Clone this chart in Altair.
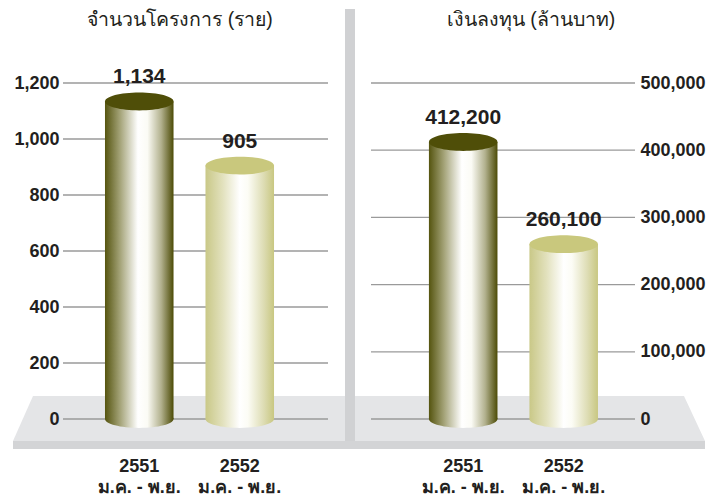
import altair as alt
import pandas as pd

# ---------------- data ----------------
years = ["2551", "2552"]
period = "ม.ค. - พ.ย."
projects = [1134, 905]
investment = [412200, 260100]
project_ticks = [0, 200, 400, 600, 800, 1000, 1200]
invest_ticks = [0, 100000, 200000, 300000, 400000, 500000]
titles = ["จำนวนโครงการ (ราย)", "เงินลงทุน (ล้านบาท)"]

labels = [y + "\n" + period for y in years]

# ---------------- style ----------------
FONT = "Liberation Sans"
TXT = "#231f20"
GRID = "#9a9a9a"
FLOOR = "#e4e5e7"
STRIP = "#d3d4d6"
DIVIDER = "#d0d1d3"


def grad(stops):
    return alt.LinearGradient(
        gradient="linear", x1=0, x2=1, y1=0, y2=0,
        stops=[alt.GradientStop(offset=o, color=c) for o, c in stops])


body_fill = {
    years[0]: grad([(0, "#55540f"), (0.22, "#a4a378"), (0.48, "#ffffff"),
                    (0.62, "#fbfbf5"), (0.82, "#b2b18e"), (1, "#4c4b06")]),
    years[1]: grad([(0, "#c9c887"), (0.25, "#e2e1bd"), (0.5, "#ffffff"),
                    (0.62, "#fcfcf5"), (0.85, "#dddcb3"), (1, "#c8c781")]),
}
top_fill = {years[0]: "#4f4e08", years[1]: "#c9c87d"}

ELLIPSE = ("M-1,0 C-1,-0.1436 -0.5523,-0.26 0,-0.26 C0.5523,-0.26 1,-0.1436 1,0 "
           "C1,0.1436 0.5523,0.26 0,0.26 C-0.5523,0.26 -1,0.1436 -1,0 Z")
BAND = 68.5
ELL_SIZE = BAND * BAND


def panel(values, ticks, title_text, title_x, orient, width, align, pad_outer,
          face_path, strip_x, divider):
    df = pd.DataFrame({"label": labels, "year": years, "value": values,
                       "zero": [0] * len(values)})
    yscale = alt.Scale(domain=[0, max(ticks)], nice=False, zero=True)
    yax = alt.Axis(orient=orient, values=ticks, format=",d", grid=False,
                   domain=False, ticks=False,
                   labelPadding=4 if orient == "left" else 5,
                   title=None, labelFont=FONT, labelFontSize=18,
                   labelFontWeight="bold", labelColor=TXT, zindex=1)
    xscale = alt.Scale(paddingInner=0.318, paddingOuter=pad_outer, align=align)
    xax = alt.Axis(title=None, labelExpr="split(datum.label, '\\n')",
                   labelAngle=0, domain=False, ticks=False, labelPadding=38,
                   labelFont=FONT, labelFontSize=18, labelFontWeight="bold",
                   labelColor=TXT, labelLineHeight=21, zindex=1)

    def X():
        return alt.X("label:N", sort=labels, scale=xscale, axis=xax)

    def Y(field):
        return alt.Y(field, scale=yscale, axis=yax)

    one = alt.Data(values=[{"k": 1}])

    layers = []
    # floor
    layers.append(alt.Chart(one).mark_rect(color=STRIP).encode(
        x=alt.value(strip_x[0]), x2=alt.value(strip_x[1]),
        y=alt.value(358), y2=alt.value(366)))
    layers.append(alt.Chart(one).mark_point(
        shape=face_path, size=4, filled=True, opacity=1, fill=FLOOR,
        strokeWidth=0).encode(x=alt.value(0), y=alt.value(0)))
    if divider is not None:
        layers.append(alt.Chart(one).mark_rect(color=DIVIDER).encode(
            x=alt.value(divider[0]), x2=alt.value(divider[1]),
            y=alt.value(-74), y2=alt.value(358)))
    # gridlines
    layers.append(alt.Chart(pd.DataFrame({"t": ticks})).mark_rule(
        color=GRID, strokeWidth=1.3).encode(y=Y("t:Q")))

    base = alt.Chart(df)
    for yr in years:
        sub = base.transform_filter(alt.datum.year == yr)
        # bottom ellipse
        layers.append(sub.mark_point(
            shape=ELLIPSE, size=ELL_SIZE, filled=True, opacity=1,
            fill=body_fill[yr], strokeWidth=0).encode(x=X(), y=Y("zero:Q")))
        # body
        layers.append(sub.mark_bar(fill=body_fill[yr], strokeWidth=0).encode(
            x=X(), y=Y("value:Q"), y2=alt.Y2("zero:Q")))
        # top ellipse
        layers.append(sub.mark_point(
            shape=ELLIPSE, size=ELL_SIZE, filled=True, opacity=1,
            fill=top_fill[yr], strokeWidth=0).encode(x=X(), y=Y("value:Q")))

    # value labels
    layers.append(base.mark_text(
        dy=-24, font=FONT, fontSize=21, fontWeight="bold", color=TXT,
        baseline="middle").encode(
        x=X(), y=Y("value:Q"), text=alt.Text("value:Q", format=",")))
    # panel title
    layers.append(alt.Chart(one).mark_text(
        font=FONT, fontSize=19.5, color=TXT, baseline="middle", align="center").encode(
        x=alt.value(title_x), y=alt.value(-63), text=alt.value(title_text)))

    return alt.layer(*layers).properties(width=width, height=336)


left = panel(projects, project_ticks, titles[0], 117, "left", 265, 0.4375, 0.4774,
             "M-30,313 L282,313 L282,358 L-50,358 Z", (-50, 292), (282, 292))
right = panel(investment, invest_ticks, titles[1], 160, "right", 264, 0.61, 0.4724,
              "M-16,313 L313,313 L334,358 L-16,358 Z", (-16, 334), None)

chart = alt.hconcat(left, right, spacing=43, bounds="flush").properties(
    padding={"left": 5, "top": 1, "right": 5, "bottom": 0}
).configure_view(strokeWidth=0)

chart.save("out.html", embed_options={"renderer": "svg", "actions": False})
